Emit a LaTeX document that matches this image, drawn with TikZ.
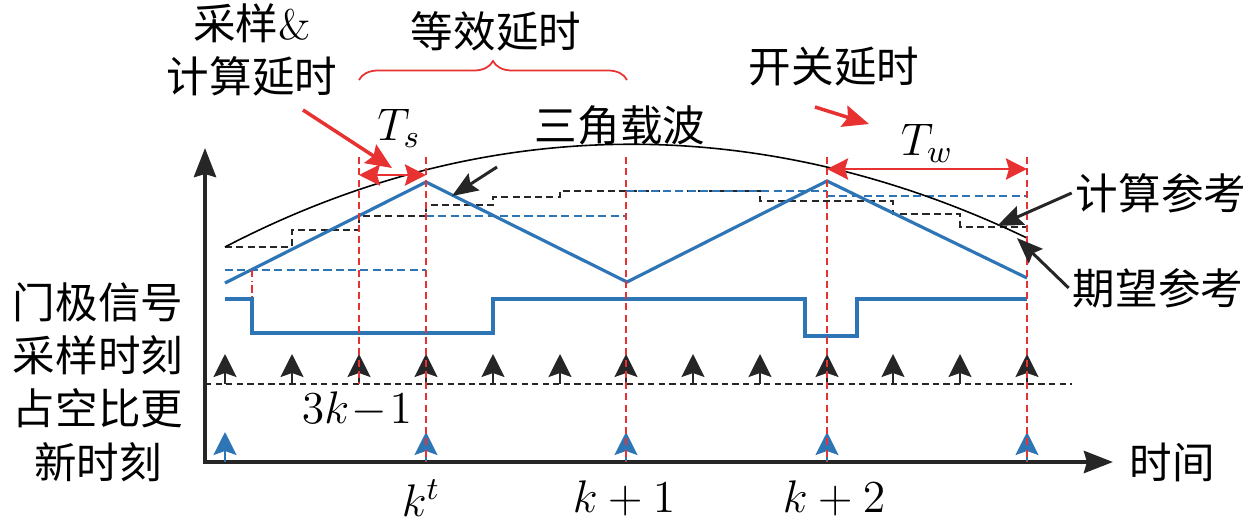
\RequirePackage{fix-cm}
\documentclass[tikz,border=0pt]{standalone}
\usepackage{fontspec}
\newfontfamily\cjk{Noto Sans CJK SC}
\usetikzlibrary{arrows.meta,decorations.pathreplacing}
\definecolor{carrier}{RGB}{46,117,182}
\definecolor{delay}{RGB}{232,50,50}
\tikzstyle{cntext}=[inner sep=1pt, align=center, font=\cjk\fontsize{12.1}{15.2}\selectfont]
\tikzstyle{mathtext}=[inner sep=1pt, font=\fontsize{13}{15.6}\selectfont]
\tikzstyle{axisline}=[line width=1.2pt, line join=miter, black!85,
  {Stealth[length=0.29cm,width=0.22cm,inset=0.03cm]}-{Stealth[length=0.29cm,width=0.22cm,inset=0.03cm]}]
\tikzstyle{carrierline}=[carrier, line width=0.9pt]
\tikzstyle{calcstep}=[black!85, line width=0.55pt, dash pattern=on 2pt off 1.2pt]
\tikzstyle{refdash}=[carrier, line width=0.55pt, dash pattern=on 2.3pt off 1.2pt]
\tikzstyle{timeline}=[delay, line width=0.45pt, dash pattern=on 2pt off 1.2pt]
\tikzstyle{sampline}=[black!85, line width=0.5pt, dash pattern=on 1.8pt off 1.2pt]
\tikzstyle{samparrow}=[black!85, line width=0.55pt, -{Stealth[length=0.23cm,width=0.23cm,inset=0.04cm]}]
\tikzstyle{updarrow}=[carrier, line width=0.55pt, -{Stealth[length=0.23cm,width=0.23cm,inset=0.04cm]}]
\tikzstyle{spanarrow}=[delay, line width=0.85pt,
  {Stealth[length=0.21cm,width=0.21cm,inset=0.03cm]}-{Stealth[length=0.21cm,width=0.21cm,inset=0.03cm]}]
\tikzstyle{redarrow}=[delay, line width=1pt, -{Stealth[length=0.26cm,width=0.22cm,inset=0.04cm]}]
\tikzstyle{notearrow}=[black!85, line width=0.85pt, -{Stealth[length=0.26cm,width=0.2cm,inset=0.04cm]}]
\newcommand{\zhnode}[2]{node (#1) [cntext] {#2}}
\newcommand{\mnode}[2]{node (#1) [mathtext] {#2}}

\begin{document}
\begin{tikzpicture}[x=0.01cm, y=-0.01cm]
\useasboundingbox (0,0) rectangle (1260,524);

% Axes
\coordinate (O) at (205,462);
\coordinate (ytop) at (205,148);
\coordinate (xend) at (1113,462);
\draw[axisline] (ytop) -- (O) -- (xend);
\draw[sampline] (205,384) -- (1072,384);

% References and carrier
\draw[calcstep] (225,247) -- (292,247) -- (292,230) -- (359,230) -- (359,216)
  -- (426,216) -- (426,205) -- (493,205) -- (493,197) -- (560,197) -- (560,191)
  -- (760,191) -- (760,201) -- (893,201) -- (893,214) -- (960,214) -- (960,227)
  -- (1027,227);
\draw[refdash] (225,270) -- (426,270);
\draw[refdash] (426,216) -- (626,216);
\draw[refdash] (626,191) -- (827,191);
\draw[refdash] (827,196) -- (1027,196);
\draw[line width=0.45pt] (225,247) .. controls (492,108) and (770,115) .. (1027,238);
\draw[carrierline] (225,283) -- (426,182) -- (627,282) -- (827,181) -- (1027,278);
\draw[carrierline] (225,299) -| (252,333) -| (493,299) -| (805,336) -| (857,299) -- (1027,299);
\draw[delay, line width=0.45pt, dash pattern=on 2pt off 1pt on 0.4pt off 1pt] (252,270) -- (252,299);

% Sampling and update instants
\foreach \x in {225,292,359,426,493,560,626,693,760,827,893,960,1027}
  \draw[samparrow] (\x,384) -- (\x,354);
\foreach \x in {225,426,626,827,1027}
  \draw[updarrow] (\x,462) -- (\x,432);
\draw[timeline] (359,157) -- (359,384);
\foreach \x in {426,626,827,1027}
  \draw[timeline] (\x,157) -- (\x,462);

% Delays
\coordinate (tsL) at (359,175);
\coordinate (tsR) at (426,175);
\coordinate (twL) at (827,169);
\coordinate (twR) at (1027,169);
\draw[spanarrow] (tsL) -- (tsR);
\draw[spanarrow] (twL) -- (twR);
\draw[delay, line width=0.5pt, decorate, decoration={brace, amplitude=0.19cm}] (359,80) -- (627,80);

% Labels
\path (98,382)   \zhnode{side}{门极信号\\采样时刻\\占空比更\\新时刻};
\path (252,50)   [font=\fontsize{12.1}{14.2}\selectfont] \zhnode{calcdelay}{采样{\rmfamily\&}\\计算延时};
\path (496,31)   \zhnode{eqdelay}{等效延时};
\path (834,67)   \zhnode{swdelay}{开关延时};
\path (620,125)  \zhnode{tri}{三角载波};
\path (1161,193) \zhnode{calcref}{计算参考};
\path (1158,288) \zhnode{expref}{期望参考};
\path (1172,462) \zhnode{time}{时间};
\path (399,128)  \mnode{ts}{$T_s$};
\path (927,143)  \mnode{tw}{$T_w$};
\path (357,410)  \mnode{k3}{$3k\mkern1mu{-}\mkern1mu1$};
\path (421,498)  \mnode{kt}{$k^t$};
\path (624,498)  \mnode{k1}{$k+1$};
\path (834,498)  \mnode{k2}{$k+2$};

% Pointers
\coordinate (cdTail) at (303,110);
\coordinate (cdTip) at (392,168);
\coordinate (swTail) at (815,107);
\coordinate (swTip) at (869,124);
\coordinate (triTail) at (497,167);
\coordinate (triTip) at (452,196);
\coordinate (calcTip) at (997,226);
\coordinate (expTip) at (1017,238);
\draw[redarrow] (cdTail) -- (cdTip);
\draw[redarrow] (swTail) -- (swTip);
\draw[notearrow] (triTail) -- (triTip);
\draw[notearrow] (calcref.west) -- (calcTip);
\draw[notearrow] (expref.west) -- (expTip);
\end{tikzpicture}
\end{document}
